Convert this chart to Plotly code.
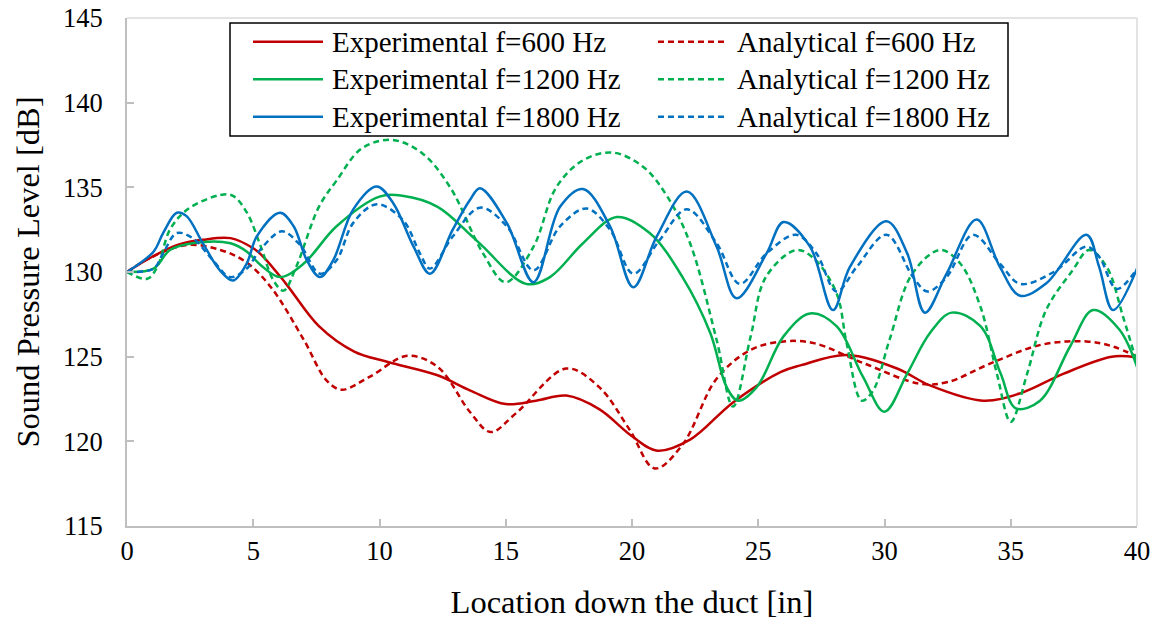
import plotly.graph_objects as go

# ---- data ----
exp600_x = [0, 1, 2, 3, 4.1, 5, 5.4, 6.3, 7.6, 9, 10.3, 12.3, 13.6, 15, 16.2, 17.4, 18.7, 20, 21, 22.3, 24, 25.9, 26.7, 28.5, 30.5, 31.8, 33.9, 35.4, 37.1, 39, 40]
exp600_y = [130, 130.9, 131.6, 131.9, 132.0, 131.4, 130.9, 129.3, 126.8, 125.3, 124.7, 123.9, 123.0, 122.2, 122.4, 122.7, 121.9, 120.3, 119.45, 120.1, 122.3, 124.1, 124.5, 125.1, 124.3, 123.3, 122.4, 122.85, 124.0, 125.0, 124.95]

ana600_x = [0, 1, 2.4, 3.7, 4.7, 5.7, 7.0, 7.9, 8.5, 9.6, 11.1, 12.3, 13.6, 14.4, 15.4, 17.4, 18.7, 19.9, 20.9, 22.0, 23.35, 24.7, 26.0, 27.2, 29.2, 31.4, 32.5, 34.2, 36.2, 38.0, 39.05, 40]
ana600_y = [130, 130.9, 131.6, 131.3, 130.6, 129.1, 126.0, 123.6, 123.05, 123.8, 125.05, 124.4, 121.7, 120.55, 121.65, 124.3, 123.2, 120.7, 118.4, 119.8, 123.7, 125.4, 125.9, 125.8, 124.6, 123.4, 123.5, 124.6, 125.7, 125.9, 125.6, 125.0]

exp1200_x = [0, 1.05, 1.7, 2.6, 4.1, 4.75, 5.3, 6.06, 7.0, 8.3, 10.0, 10.9, 12.3, 13.6, 14.1, 15.8, 16.75, 18.06, 19.4, 20.7, 22.0, 23.1, 23.75, 24.2, 24.94, 26.0, 27.05, 28.1, 29.15, 30.0, 30.9, 31.8, 32.66, 33.8, 34.6, 35.2, 36.16, 37.35, 38.26, 39.3, 40]
exp1200_y = [130, 130.2, 131.3, 131.7, 131.7, 131.2, 130.4, 129.7, 130.5, 132.7, 134.45, 134.5, 133.85, 132.2, 131.5, 129.3, 129.7, 131.7, 133.25, 132.3, 129.7, 126.4, 123.2, 122.4, 123.2, 126.2, 127.55, 126.8, 123.8, 121.75, 124.0, 126.4, 127.6, 126.8, 124.0, 121.95, 122.4, 125.6, 127.75, 126.6, 124.4]

ana1200_x = [0, 0.8, 1.2, 1.7, 2.4, 3.7, 4.2, 4.75, 5.3, 5.8, 6.2, 6.7, 7.6, 8.3, 9.3, 10.5, 11.7, 12.8, 14.1, 15.0, 16.1, 17.0, 18.06, 19.25, 20.45, 21.4, 22.3, 23.35, 24.0, 24.7, 25.3, 26.5, 27.2, 28.1, 28.5, 29.1, 29.55, 30.2, 31.1, 32.2, 33.0, 33.8, 34.45, 35.0, 35.65, 36.4, 37.45, 38.1, 38.8, 39.45, 40]
ana1200_y = [130, 129.6, 130.3, 132.5, 133.7, 134.55, 134.5, 133.5, 131.5, 129.5, 128.9, 130.3, 133.85, 135.4, 137.3, 137.8, 137.0, 135.0, 131.1, 129.4, 131.5, 135.0, 136.6, 137.05, 136.2, 134.45, 131.7, 126.0, 122.05, 126.2, 129.7, 131.3, 130.8, 128.75, 125.8, 122.4, 123.0, 126.0, 129.9, 131.3, 130.5, 127.95, 124.0, 121.15, 124.0, 127.75, 130.1, 131.3, 130.3, 127.35, 124.6]

exp1800_x = [0, 1.05, 1.43, 1.97, 2.36, 3.0, 3.68, 4.2, 4.74, 5.14, 6.06, 6.6, 7.12, 7.64, 8.17, 8.96, 9.89, 10.55, 11.35, 12.0, 12.9, 13.58, 13.98, 15.04, 16.1, 17.15, 18.06, 19.13, 20.05, 20.98, 22.17, 23.35, 24.14, 25.33, 26.0, 27.05, 27.96, 28.63, 30.08, 30.9, 31.6, 32.46, 33.65, 34.57, 35.37, 36.42, 38.0, 38.5, 39.05, 40]
exp1800_y = [130, 131.2, 132.3, 133.5, 133.3, 131.7, 130.1, 129.5, 130.5, 132.1, 133.5, 132.7, 130.7, 129.7, 130.7, 133.7, 135.05, 134.05, 131.5, 129.9, 132.5, 134.25, 134.95, 132.9, 129.4, 133.85, 134.9, 132.7, 129.1, 132.1, 134.75, 131.5, 128.45, 131.1, 132.95, 131.5, 127.75, 130.3, 133.0, 131.1, 127.6, 129.9, 133.1, 130.3, 128.6, 129.35, 132.2, 130.3, 127.75, 130.2]

ana1800_x = [0, 1.05, 1.43, 1.97, 2.6, 3.4, 4.08, 4.74, 5.27, 6.13, 6.85, 7.64, 8.3, 8.96, 9.89, 10.94, 11.6, 12.0, 12.9, 13.98, 15.04, 16.1, 17.15, 18.2, 19.13, 20.05, 21.1, 22.17, 23.35, 24.27, 25.33, 26.5, 27.3, 28.1, 28.9, 30.08, 31.13, 31.7, 32.46, 33.5, 34.57, 35.37, 36.7, 38.0, 38.5, 39.2, 40]
ana1800_y = [130, 130.2, 131.1, 132.3, 132.0, 130.7, 129.7, 130.2, 131.3, 132.4, 131.6, 129.9, 130.7, 132.9, 134.0, 133.05, 131.1, 130.2, 132.1, 133.8, 132.7, 130.1, 132.7, 133.75, 132.5, 129.9, 131.9, 133.7, 131.7, 129.3, 131.1, 132.2, 131.1, 128.85, 130.3, 132.2, 129.7, 128.85, 129.7, 132.2, 130.5, 129.3, 130.0, 131.5, 130.9, 129.0, 130.2]

x_ticks = [0, 5, 10, 15, 20, 25, 30, 35, 40]
y_ticks = [115, 120, 125, 130, 135, 140, 145]

RED, GREEN, BLUE = "#C00000", "#00B050", "#0070C0"
FONT = "Liberation Serif"
DASH = "6px,4px"

series = [
    ("Experimental f=600 Hz", exp600_x, exp600_y, RED, "solid"),
    ("Analytical f=600 Hz", ana600_x, ana600_y, RED, DASH),
    ("Experimental f=1200 Hz", exp1200_x, exp1200_y, GREEN, "solid"),
    ("Analytical f=1200 Hz", ana1200_x, ana1200_y, GREEN, DASH),
    ("Experimental f=1800 Hz", exp1800_x, exp1800_y, BLUE, "solid"),
    ("Analytical f=1800 Hz", ana1800_x, ana1800_y, BLUE, DASH),
]

# full-window figure (page body margin removed via post_script below)
W, H = 1158, 621
ML, MR, MT, MB = 127, 21, 18, 95
PW, PH = W - ML - MR, H - MT - MB


def px2x(px):  # page pixel -> paper fraction
    return (px - ML) / PW


def py2y(py):
    return 1 - (py - MT) / PH


fig = go.Figure()
for name, xs, ys, col, dash in series:
    fig.add_trace(go.Scatter(
        x=xs, y=ys, name=name, mode="lines",
        line=dict(color=col, width=2.5, dash=dash, shape="spline", smoothing=1.0),
    ))

axis_common = dict(
    showgrid=False, zeroline=False, showline=True, linecolor="#BFBFBF", linewidth=2,
    ticks="inside", ticklen=7, tickwidth=1.5, tickcolor="#BFBFBF",
    tickfont=dict(family=FONT, size=26.5, color="black"),
    automargin=False, ticklabeloverflow="allow",
)

fig.update_layout(
    width=W, height=H,
    margin=dict(l=ML, r=MR, t=MT, b=MB),
    paper_bgcolor="white", plot_bgcolor="white",
    font=dict(family=FONT, color="black"),
    showlegend=False,
    xaxis=dict(range=[0, 40], tickvals=x_ticks, ticklabelstandoff=0,
               title=dict(text="Location down the duct [in]", font=dict(family=FONT, size=32.5), standoff=25),
               **axis_common),
    yaxis=dict(range=[115, 145], tickvals=y_ticks, ticklabelstandoff=17,
               title=dict(text="Sound Pressure Level [dB]", font=dict(family=FONT, size=32.5), standoff=14),
               **axis_common),
)

# light top/right border of the plot area
fig.add_shape(type="line", xref="x domain", yref="y domain", x0=0, x1=1, y0=1, y1=1,
              line=dict(color="#E3E3E3", width=2))
fig.add_shape(type="line", xref="x domain", yref="y domain", x0=1, x1=1, y0=0, y1=1,
              line=dict(color="#E3E3E3", width=2))

# legend (two columns, three rows) drawn with shapes + text annotations
fig.add_shape(type="rect", xref="paper", yref="paper",
              x0=px2x(230), x1=px2x(1008), y0=py2y(23), y1=py2y(136),
              line=dict(color="black", width=1.5), fillcolor="white", layer="above")
row_y = [41.7, 79.3, 116.7]
col_sample = [(253, 323), (658, 727)]
col_text = [330, 735]
for i, (name, xs, ys, col, dash) in enumerate(series):
    r, c = i // 2, i % 2
    yy = py2y(row_y[r])
    fig.add_shape(type="line", xref="paper", yref="paper",
                  x0=px2x(col_sample[c][0]), x1=px2x(col_sample[c][1]), y0=yy, y1=yy,
                  line=dict(color=col, width=2.5, dash=dash), layer="above")
    fig.add_annotation(text=name, xref="paper", yref="paper",
                       x=px2x(col_text[c]), y=yy, xanchor="left", yanchor="middle",
                       showarrow=False, font=dict(family=FONT, size=29, color="black"))

fig.write_html(
    "out.html",
    config={"displayModeBar": False},
    post_script="document.body.style.margin='0';document.body.style.overflow='hidden';",
)
